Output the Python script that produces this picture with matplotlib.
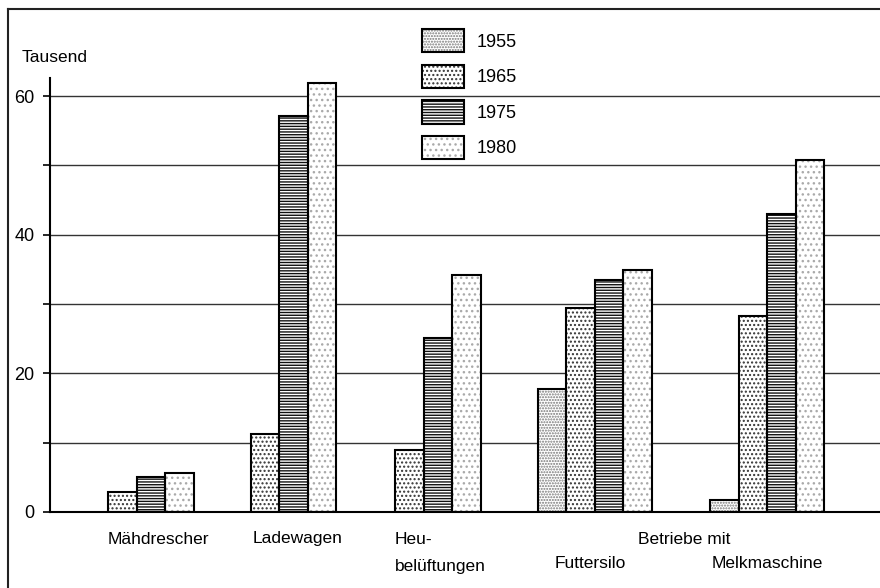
import numpy as np
import matplotlib
matplotlib.use("Agg")
import matplotlib.pyplot as plt
from matplotlib.lines import Line2D
from matplotlib.legend_handler import HandlerTuple

plt.rcParams['font.family'] = ['Liberation Sans', 'DejaVu Sans']
plt.rcParams['hatch.linewidth'] = 1.0

# ---------------- data ----------------
categories = ["Mähdrescher", "Ladewagen", "Heu-\nbelüftungen", "Futtersilo", "Melkmaschine"]
years = ["1955", "1965", "1975", "1980"]
v1955 = [np.nan, np.nan, np.nan, 17.7, 1.7]
v1965 = [2.9, 11.3, 8.9, 29.4, 28.3]
v1975 = [5.0, 57.1, 25.1, 33.5, 43.0]
v1980 = [5.6, 61.9, 34.2, 34.9, 50.8]
group_title = "Betriebe mit"
y_unit = "Tausend"
y_ticks = [0, 20, 40, 60]
y_minor = [10, 30, 50]

# ---------------- layout ----------------
W, H = 880, 588
fig = plt.figure(figsize=(W / 100, H / 100), dpi=100)
ax_left, ax_right, ax_bot, ax_top = 50, 880, 512, 78
ax = fig.add_axes([ax_left / W, 1 - ax_bot / H, (ax_right - ax_left) / W, (ax_bot - ax_top) / H])
ymax = (ax_bot - ax_top) / 6.93
ax.set_xlim(0, ax_right - ax_left)
ax.set_ylim(0, ymax)

group_x = np.array([86.5, 229, 373.5, 544.5, 717])
bw = 28.5
offsets = np.array([-1.5, -0.5, 0.5, 1.5]) * bw

styles = [
    dict(hatch='......', color='#777777'),   # 1955 fine stipple
    dict(hatch='....', color='#333333'),     # 1965 coarse speckle
    dict(hatch='------', color='#111111'),   # 1975 horizontal lines
    dict(hatch='...', color='#aaaaaa'),      # 1980 light dots
]

series = [v1955, v1965, v1975, v1980]
handles = []
for i, (vals, st) in enumerate(zip(series, styles)):
    vals = np.array(vals, dtype=float)
    mask = ~np.isnan(vals)
    xs = group_x[mask] + offsets[i]
    fill = ax.bar(xs, vals[mask], width=bw, facecolor='white', edgecolor=st['color'],
                  hatch=st['hatch'], linewidth=0, zorder=3)
    outline = ax.bar(xs, vals[mask], width=bw, facecolor='none', edgecolor='black',
                     linewidth=1.5, zorder=4)
    handles.append((fill.patches[0], outline.patches[0]))

# grid
for g in range(10, 61, 10):
    ax.axhline(g, color='#333333', linewidth=1.0, zorder=1)

for s in ['top', 'right']:
    ax.spines[s].set_visible(False)
ax.spines['left'].set_linewidth(1.5)
ax.spines['bottom'].set_linewidth(1.5)
ax.spines['left'].set_zorder(5)
ax.spines['bottom'].set_zorder(5)

ax.set_yticks(y_ticks)
ax.set_yticks(y_minor, minor=True)
ax.set_yticklabels([str(t) for t in y_ticks], fontsize=13)
ax.tick_params(axis='y', which='both', length=5, width=1.2, direction='out', pad=6)
ax.set_xticks([])

# category labels
label_px = [(108, 'left'), (253, 'left'), (395, 'left'), (590, 'center'), (712, 'left')]
label_y = [539, 539, 539, 564, 564]
xt = ax.get_xaxis_transform()
def y_ax(py):
    return (ax_bot - py) / (ax_bot - ax_top)
for cat, (px, ha), py in zip(categories, label_px, label_y):
    for k, line in enumerate(cat.split("\n")):
        ax.text(px - ax_left, y_ax(py + 28 * k), line, transform=xt, ha=ha, va='center',
                fontsize=12.5, clip_on=False)
ax.text(638 - ax_left, y_ax(539), group_title, transform=xt, ha='left', va='center',
        fontsize=12.5, clip_on=False)

fig.text(22 / W, 1 - 58 / H, y_unit, ha='left', va='center', fontsize=12.5)

# legend
leg = fig.legend(handles, years, loc='upper left',
                 bbox_to_anchor=(422 / W, 1 - 29 / H), frameon=False,
                 fontsize=13, handlelength=2.33, handleheight=1.6,
                 labelspacing=0.69, handletextpad=0.72, borderpad=0, borderaxespad=0,
                 handler_map={tuple: HandlerTuple(ndivide=1, pad=0)})

# outer border (top and left)
fig.add_artist(Line2D([8 / W, 1.0], [1 - 9 / H, 1 - 9 / H], color='#222222', linewidth=1.5,
                      transform=fig.transFigure))
fig.add_artist(Line2D([8 / W, 8 / W], [1 - 9 / H, 0], color='#222222', linewidth=1.5,
                      transform=fig.transFigure))

fig.savefig("out.png", dpi=100)
